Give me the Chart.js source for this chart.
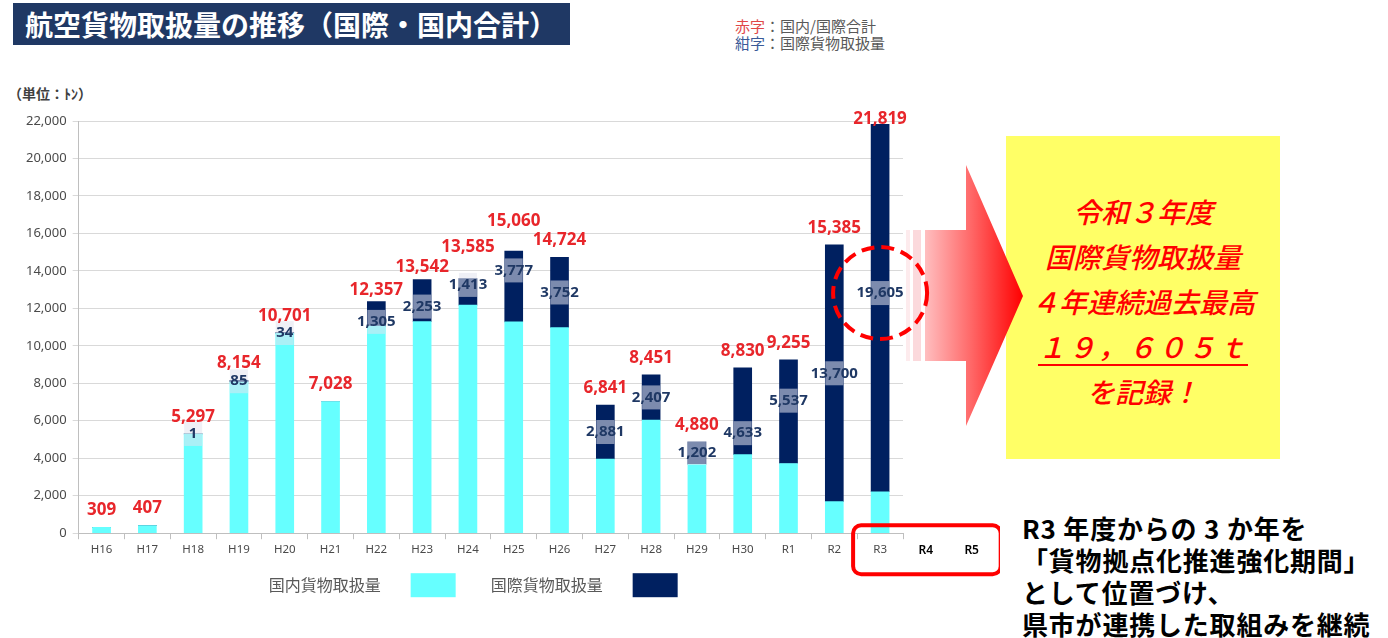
<!DOCTYPE html>
<html lang="ja">
<head>
<meta charset="utf-8">
<script src="https://cdn.jsdelivr.net/npm/chart.js"></script>
<style>
  body { margin: 0; width: 1388px; height: 638px; background: #fff; position: relative; overflow: hidden; font-family: "Noto Sans CJK JP", sans-serif; }
  .title { position: absolute; left: 13px; top: 3px; width: 557px; height: 42px; background: #1F3864; color: #fff; font-weight: bold; font-size: 28px; line-height: 42px; padding-left: 12px; box-sizing: border-box; white-space: nowrap; }
  .note { position: absolute; left: 735px; top: 17px; font-size: 15px; line-height: 17px; color: #595959; }
  .note .r { color: #E04848; }
  .note .b { color: #3A5A98; }
  .unit { position: absolute; left: 8px; top: 83px; font-size: 14px; font-weight: bold; color: #404040; }
  .panel { position: absolute; left: 1006px; top: 136px; width: 274px; height: 323px; background: #FFFF66; color: #FF0000; font-size: 28px; font-style: italic; font-weight: 500; text-align: center; line-height: 45px; padding-top: 53px; box-sizing: border-box; }
  .panel .u { text-decoration: underline; text-decoration-thickness: 2px; text-underline-offset: 6px; letter-spacing: 2px; }
  .memo { position: absolute; left: 1022px; top: 512px; font-size: 26px; letter-spacing: 0.8px; font-weight: bold; line-height: 32px; color: #000; white-space: nowrap; }
  svg.arrow { position: absolute; left: 0; top: 0; }
  #wrap { position: absolute; left: 0; top: 60px; width: 1000px; height: 560px; }
</style>
</head>
<body>
<div class="title">航空貨物取扱量の推移（国際・国内合計）</div>
<div class="note"><span class="r">赤字</span>：国内/国際合計<br><span class="b">紺字</span>：国際貨物取扱量</div>
<div class="unit">（単位：ﾄﾝ）</div>

<div class="panel">
  <div>令和３年度</div>
  <div>国際貨物取扱量</div>
  <div>４年連続過去最高</div>
  <div><span class="u">１９，６０５ｔ</span></div>
  <div>を記録！</div>
</div>

<svg class="arrow" width="1388" height="638">
  <defs>
    <linearGradient id="arrowFill" x1="905" y1="0" x2="1023" y2="0" gradientUnits="userSpaceOnUse">
      <stop offset="0" stop-color="#FFE4E6"/>
      <stop offset="0.55" stop-color="#FF6A6A"/>
      <stop offset="1" stop-color="#FF0000"/>
    </linearGradient>
  </defs>
  <rect x="906" y="230" width="4" height="131" fill="#FDEBED"/>
  <rect x="913" y="230" width="8" height="131" fill="#FBD9DC"/>
  <polygon points="925,230 966,230 966,165 1023,296 966,426 966,361 925,361" fill="url(#arrowFill)"/>
</svg>

<div class="memo">R3 年度からの 3 か年を<br>「貨物拠点化推進強化期間」<br>として位置づけ、<br>県市が連携した取組みを継続</div>

<div id="wrap"><canvas id="cargoChart" width="1000" height="560"></canvas></div>

<script>
// 年度
const fiscalYears = ['H16', 'H17', 'H18', 'H19', 'H20', 'H21', 'H22', 'H23', 'H24', 'H25',
                     'H26', 'H27', 'H28', 'H29', 'H30', 'R1', 'R2', 'R3'];
const futureYears = ['R4', 'R5'];

// 国内貨物取扱量 (トン)
const domestic = [309, 407, 5296, 8069, 10667, 7028, 11052, 11289, 12172, 11283,
                  10972, 3960, 6044, 3678, 4197, 3718, 1685, 2214];
// 国際貨物取扱量 (トン)
const international = [0, 0, 1, 85, 34, 0, 1305, 2253, 1413, 3777,
                       3752, 2881, 2407, 1202, 4633, 5537, 13700, 19605];
// 国内/国際合計 (トン)
const totals = [309, 407, 5297, 8154, 10701, 7028, 12357, 13542, 13585, 15060,
                14724, 6841, 8451, 4880, 8830, 9255, 15385, 21819];

const yMax = 22000;
const yStep = 2000;

// ラベルの手動ずらし (px)
const totalNudge = { H22: 5, H23: 5, H24: -15, H25: -13 };
const intlNudge = { H22: 8, H23: 6, H24: -7, H25: -16, H30: 22, R1: -11, R3: -15 };

const fmt = v => v.toLocaleString('en-US');

// 数値ラベル・凡例・強調表示
const labelPlugin = {
    id: 'valueLabels',
    afterDraw(chart) {
        const { ctx, chartArea, scales: { x, y } } = chart;
        const intlMeta = chart.getDatasetMeta(1);
        const last = fiscalYears.length - 1;
        let r3Label = 0;
        ctx.save();
        ctx.textAlign = 'center';
        ctx.textBaseline = 'middle';

        // 紺字：国際貨物取扱量
        ctx.font = 'bold 15px "Noto Sans"';
        international.forEach((v, i) => {
            if (!v) return;
            const bar = intlMeta.data[i];
            const cy = (bar.y + bar.base) / 2 + (intlNudge[fiscalYears[i]] || 0);
            if (i === last) r3Label = cy;
            ctx.fillStyle = 'rgba(225, 228, 238, 0.55)';
            ctx.fillRect(bar.x - bar.width / 2, cy - 12, bar.width, 24);
            ctx.fillStyle = '#1F3864';
            ctx.fillText(fmt(v), bar.x, cy);
        });

        // 赤字：合計
        ctx.font = 'bold 17px "Noto Sans"';
        ctx.fillStyle = '#E8262B';
        totals.forEach((v, i) => {
            const cx = x.getPixelForValue(i);
            const cy = Math.max(y.getPixelForValue(v) - 17 + (totalNudge[fiscalYears[i]] || 0), chartArea.top - 2);
            ctx.fillText(fmt(v), cx, cy);
        });

        // R4, R5
        const labelY = chartArea.bottom + 17;
        ctx.font = '600 12px "Noto Sans"';
        ctx.fillStyle = '#000';
        futureYears.forEach((t, k) => {
            ctx.fillText(t, x.getPixelForValue(fiscalYears.length + k), labelY);
        });

        // 凡例 (文字の右に色見本)
        const legendY = chartArea.bottom + 52;
        let lx = chartArea.left + 190;
        ctx.font = '16px "Noto Sans CJK JP"';
        ctx.textAlign = 'left';
        chart.data.datasets.forEach(ds => {
            ctx.fillStyle = '#595959';
            ctx.fillText(ds.label, lx, legendY);
            lx += ctx.measureText(ds.label).width + 30;
            ctx.fillStyle = ds.backgroundColor;
            ctx.fillRect(lx, legendY - 12, 45, 24);
            lx += 45 + 35;
        });

        // 赤枠 (R3〜R5)
        const x0 = x.getPixelForValue(last) - 27;
        const x1 = x.getPixelForValue(last + futureYears.length) + 29;
        ctx.strokeStyle = '#FF0000';
        ctx.lineWidth = 4;
        ctx.beginPath();
        ctx.roundRect(x0, chartArea.bottom - 8, x1 - x0, 49, 8);
        ctx.stroke();

        // 点線の円 (R3 国際)
        ctx.setLineDash([13, 7]);
        ctx.beginPath();
        ctx.ellipse(intlMeta.data[last].x, r3Label, 47, 46, 0, 0, Math.PI * 2);
        ctx.stroke();
        ctx.restore();
    }
};

const cargoCtx = document.getElementById('cargoChart').getContext('2d');
new Chart(cargoCtx, {
    type: 'bar',
    data: {
        labels: fiscalYears,
        datasets: [{
            label: '国内貨物取扱量',
            data: domestic,
            backgroundColor: '#66FFFF',
            barThickness: 18
        }, {
            label: '国際貨物取扱量',
            data: international,
            backgroundColor: '#002060',
            barThickness: 18
        }]
    },
    options: {
        responsive: false,
        animation: false,
        layout: { padding: { left: 20, right: 97, top: 61, bottom: 59 } },
        scales: {
            x: {
                stacked: true,
                grid: { drawOnChartArea: false, tickLength: 6, color: '#bfbfbf' },
                border: { color: '#bfbfbf' },
                ticks: { color: '#4a4a4a', padding: 4, font: { family: 'Noto Sans', size: 11.5 } }
            },
            y: {
                stacked: true,
                min: 0,
                max: yMax,
                grid: { color: '#d9d9d9', tickLength: 6 },
                border: { color: '#bfbfbf' },
                ticks: {
                    stepSize: yStep,
                    color: '#4a4a4a',
                    padding: 6,
                    font: { family: 'Noto Sans', size: 13 },
                    callback: v => fmt(v)
                }
            }
        },
        plugins: {
            legend: { display: false },
            tooltip: { enabled: false }
        }
    },
    plugins: [labelPlugin]
});
</script>
</body>
</html>
